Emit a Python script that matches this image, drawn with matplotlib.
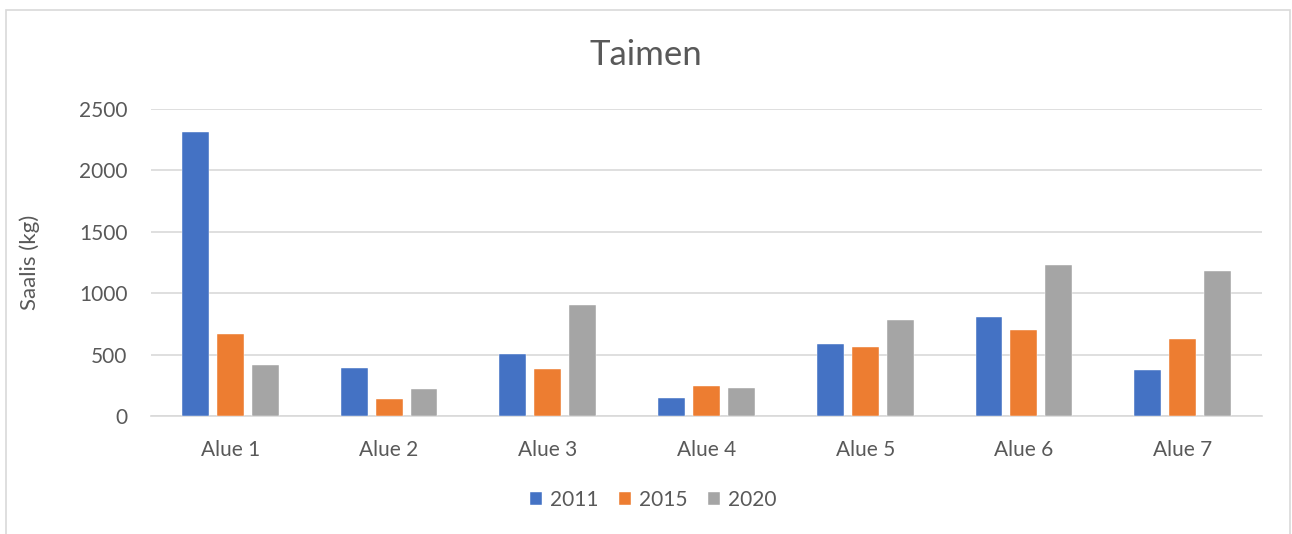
import matplotlib
matplotlib.use("Agg")
import matplotlib.pyplot as plt
import numpy as np
from matplotlib.patches import Rectangle

categories = ["Alue 1", "Alue 2", "Alue 3", "Alue 4", "Alue 5", "Alue 6", "Alue 7"]
series_names = ["2011", "2015", "2020"]
vals_2011 = [2315, 389, 503, 144, 584, 804, 372]
vals_2015 = [666, 139, 383, 247, 562, 701, 625]
vals_2020 = [416, 220, 907, 226, 780, 1228, 1179]
colors = ["#4472C4", "#ED7D31", "#A5A5A5"]
yticks = [0, 500, 1000, 1500, 2000, 2500]

plt.rcParams['font.family'] = ['Lato', 'DejaVu Sans']
text_color = "#595959"

fig = plt.figure(figsize=(12.92, 5.34), dpi=100)
ax = fig.add_axes([151/1292, 118/534, (1262-151)/1292, (416-109)/534])

# chart border
fig.patches.append(Rectangle((6/1292, -0.05), (1290-6)/1292, (534-10)/534 + 0.05,
                             transform=fig.transFigure, fill=False,
                             edgecolor="#D9D9D9", linewidth=1.2))

x = np.arange(len(categories))
w = 27/159
step = 35/159
for i, (vals, name) in enumerate(zip([vals_2011, vals_2015, vals_2020], series_names)):
    ax.bar(x + (i - 1) * step, vals, width=w, color=colors[i], label=name,
           edgecolor="white", linewidth=0.3, zorder=3)

ax.set_xlim(-0.5, len(categories) - 0.5)
ax.set_ylim(0, 2500)
ax.set_yticks(yticks)
ax.set_xticks(x)
ax.set_xticklabels(categories)
ax.grid(axis='y', color="#D9D9D9", linewidth=1.2, zorder=0)
for s in ["top", "right", "left"]:
    ax.spines[s].set_visible(False)
ax.spines["bottom"].set_color("#D9D9D9")
ax.spines["bottom"].set_linewidth(1.2)
ax.tick_params(axis='both', length=0, colors=text_color, labelsize=15)
ax.tick_params(axis='x', pad=17)
ax.tick_params(axis='y', pad=17)
ax.set_ylabel("Saalis (kg)", color=text_color, fontsize=16, labelpad=28)

fig.text(0.5, 1 - 55/534, "Taimen", ha='center', va='center',
         fontsize=25, color=text_color)

leg = fig.legend(loc='center', bbox_to_anchor=(653/1292, 1 - 500/534), ncol=3,
                 frameon=False, fontsize=15, handlelength=0.6, handleheight=0.6,
                 handletextpad=0.35, columnspacing=1.0)
for t in leg.get_texts():
    t.set_color(text_color)

fig.savefig("out.png", dpi=100)
